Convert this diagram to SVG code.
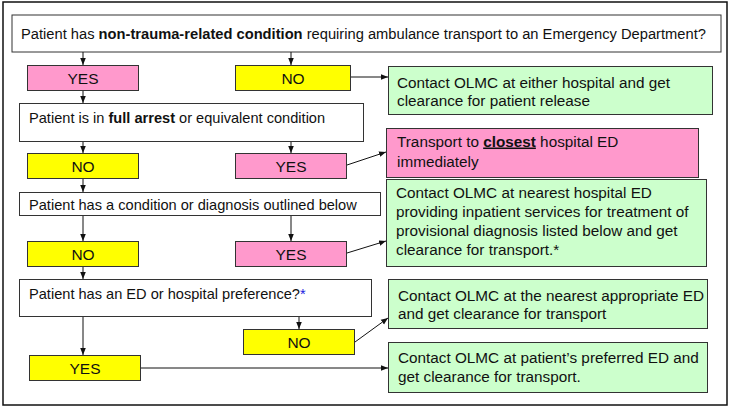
<svg xmlns="http://www.w3.org/2000/svg" width="729" height="408" viewBox="0 0 729 408">
<defs>
<marker id="ah" viewBox="0 0 8 8" refX="8" refY="4" markerWidth="7" markerHeight="7" markerUnits="userSpaceOnUse" orient="auto">
<path d="M0,0.8 L8,4 L0,7.2 z" fill="#111"/>
</marker>
<style>
text{font-family:"Liberation Sans",Arial,sans-serif;fill:#111;}
.q{font-size:14.6px;}
.h{font-size:14.7px;}
.t{font-size:15.3px;}
.yn{font-size:15.5px;text-anchor:middle;}
.box{stroke:#333;stroke-width:1;}
.w{fill:#fff;}
.p{fill:#ff99cc;}
.y{fill:#ffff00;}
.g{fill:#ccffcc;}
.c{stroke:#111;stroke-width:1;fill:none;marker-end:url(#ah);}
</style>
</defs>
<rect x="3" y="2" width="724" height="403" fill="#fff" stroke="#111" stroke-width="1.5"/>

<g id="q1">
<rect class="box w" x="12" y="15" width="709" height="37"/>
<text class="h" x="21" y="38.5">Patient has <tspan font-weight="bold">non-trauma-related condition</tspan> requiring ambulance transport to an Emergency Department?</text>
</g>
<g id="yes1">
<rect class="box p" x="27.5" y="65.5" width="111" height="25"/>
<text class="yn" x="83" y="83.5">YES</text>
</g>
<g id="no1">
<rect class="box y" x="235.5" y="65.5" width="115" height="25"/>
<text class="yn" x="293" y="83.5">NO</text>
</g>
<g id="r1">
<rect class="box g" x="388.5" y="66.5" width="324" height="48"/>
<text class="t" x="397" y="87.5">Contact OLMC at either hospital and get</text>
<text class="t" x="397" y="105.5">clearance for patient release</text>
</g>

<g id="q2">
<rect class="box w" x="19.5" y="103.5" width="344" height="38"/>
<text class="q" x="29" y="123">Patient is in <tspan font-weight="bold">full arrest</tspan> or equivalent condition</text>
</g>
<g id="no2">
<rect class="box y" x="27.5" y="153.5" width="111" height="25"/>
<text class="yn" x="83" y="171.5">NO</text>
</g>
<g id="yes2">
<rect class="box p" x="235.5" y="153.5" width="111" height="25"/>
<text class="yn" x="291" y="171.5">YES</text>
</g>
<g id="r2">
<rect class="box p" x="386.5" y="128.5" width="312" height="49"/>
<text class="t" x="397" y="146.5">Transport to <tspan font-weight="bold" text-decoration="underline">closest</tspan> hospital ED</text>
<text class="t" x="397" y="166.5">immediately</text>
</g>

<g id="q3">
<rect class="box w" x="19.5" y="192.5" width="361" height="23"/>
<text class="q" x="29" y="209.5">Patient has a condition or diagnosis outlined below</text>
</g>
<g id="no3">
<rect class="box y" x="27.5" y="241.5" width="111" height="25"/>
<text class="yn" x="83" y="259.5">NO</text>
</g>
<g id="yes3">
<rect class="box p" x="235.5" y="241.5" width="111" height="25"/>
<text class="yn" x="291" y="259.5">YES</text>
</g>
<g id="r3">
<rect class="box g" x="386.5" y="179.5" width="320" height="87"/>
<text class="t" x="396" y="197.5">Contact OLMC at nearest hospital ED</text>
<text class="t" x="396" y="216.5">providing inpatient services for treatment of</text>
<text class="t" x="396" y="235.5">provisional diagnosis listed below and get</text>
<text class="t" x="396" y="254.5">clearance for transport.*</text>
</g>

<g id="q4">
<rect class="box w" x="19.5" y="279.5" width="352" height="37"/>
<text class="q" x="29" y="298.5">Patient has an ED or hospital preference?<tspan fill="#2020e0">*</tspan></text>
</g>
<g id="no4">
<rect class="box y" x="243.5" y="329.5" width="111" height="25"/>
<text class="yn" x="299" y="347.5">NO</text>
</g>
<g id="yes4">
<rect class="box y" x="29.5" y="355.5" width="111" height="25"/>
<text class="yn" x="85" y="373.5">YES</text>
</g>
<g id="r4">
<rect class="box g" x="388.5" y="279.5" width="319" height="49"/>
<text class="t" x="398" y="300.5">Contact OLMC at the nearest appropriate ED</text>
<text class="t" x="398" y="318.5">and get clearance for transport</text>
</g>
<g id="r5">
<rect class="box g" x="388.5" y="342.5" width="319" height="50"/>
<text class="t" x="398" y="362.5">Contact OLMC at patient’s preferred ED and</text>
<text class="t" x="398" y="381.5">get clearance for transport.</text>
</g>

<g id="connectors">
<line class="c" x1="83" y1="52" x2="83" y2="65"/>
<line class="c" x1="291" y1="52" x2="291" y2="65"/>
<line class="c" x1="351" y1="77" x2="388" y2="77"/>
<line class="c" x1="83" y1="91" x2="83" y2="103"/>
<line class="c" x1="83" y1="142" x2="83" y2="153"/>
<line class="c" x1="291" y1="142" x2="291" y2="153"/>
<line class="c" x1="347" y1="165" x2="386" y2="152"/>
<line class="c" x1="83" y1="179" x2="83" y2="192"/>
<line class="c" x1="83" y1="216" x2="83" y2="241"/>
<line class="c" x1="291" y1="216" x2="291" y2="241"/>
<line class="c" x1="347" y1="253" x2="386" y2="241"/>
<line class="c" x1="83" y1="267" x2="83" y2="279"/>
<line class="c" x1="83" y1="317" x2="83" y2="355"/>
<line class="c" x1="299" y1="317" x2="299" y2="329"/>
<line class="c" x1="355" y1="342" x2="388" y2="318"/>
<line class="c" x1="141" y1="368" x2="388" y2="368"/>
</g>
</svg>
